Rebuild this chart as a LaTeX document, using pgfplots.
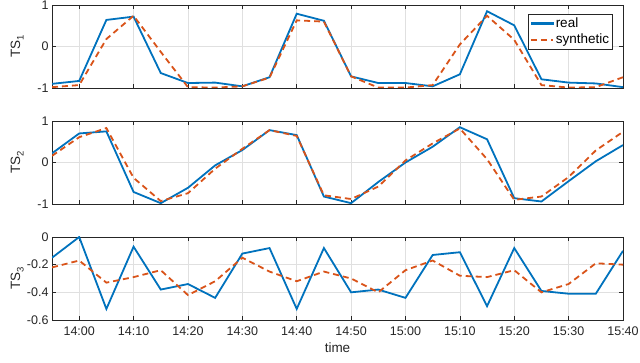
\documentclass[border=0pt]{standalone}
\usepackage{fontspec}
\setmainfont{Liberation Sans}
\usepackage{pgfplots}
\usepackage{pgfplotstable}
\pgfplotsset{compat=1.18}
\definecolor{mblue}{rgb}{0,0.447,0.741}
\definecolor{morange}{rgb}{0.85,0.325,0.098}
\definecolor{mgrid}{gray}{0.15}

% t in minutes after 14:00
\pgfplotstableread{
t real synth
-5 -0.90 -0.98
0 -0.83 -0.93
5 0.64 0.18
10 0.72 0.74
15 -0.64 -0.13
20 -0.88 -0.98
25 -0.87 -0.99
30 -0.96 -0.96
35 -0.74 -0.75
40 0.79 0.63
45 0.62 0.60
50 -0.72 -0.72
55 -0.88 -0.99
60 -0.88 -0.99
65 -0.96 -0.93
70 -0.67 0.05
75 0.85 0.74
80 0.51 0.16
85 -0.79 -0.93
90 -0.87 -0.99
95 -0.89 -0.98
100 -0.98 -0.74
}\tsone

\pgfplotstableread{
t real synth
-5 0.22 0.16
0 0.70 0.61
5 0.75 0.83
10 -0.71 -0.37
15 -0.98 -0.93
20 -0.61 -0.74
25 -0.07 -0.15
30 0.30 0.33
35 0.78 0.78
40 0.66 0.64
45 -0.82 -0.79
50 -0.98 -0.88
55 -0.47 -0.58
60 0.00 0.05
65 0.38 0.46
70 0.85 0.82
75 0.56 0.08
80 -0.86 -0.90
85 -0.94 -0.82
90 -0.45 -0.35
95 0.03 0.29
100 0.42 0.74
}\tstwo

\pgfplotstableread{
t real synth
-5 -0.15 -0.22
0 0.00 -0.17
5 -0.52 -0.33
10 -0.07 -0.29
15 -0.38 -0.24
20 -0.34 -0.42
25 -0.44 -0.32
30 -0.12 -0.15
35 -0.08 -0.25
40 -0.52 -0.32
45 -0.08 -0.25
50 -0.40 -0.30
55 -0.38 -0.40
60 -0.44 -0.24
65 -0.13 -0.17
70 -0.11 -0.28
75 -0.50 -0.29
80 -0.08 -0.24
85 -0.39 -0.40
90 -0.41 -0.34
95 -0.41 -0.19
100 -0.10 -0.20
}\tsthree

\tikzset{myreal/.style={draw=mblue, line width=1.8pt, solid},
mysynth/.style={draw=morange, line width=1.8pt, dash pattern=on 6pt off 4pt}}

\pgfplotsset{panel/.style={
  scale only axis, width=571pt, height=83pt,
  anchor=south west,
  xmin=-5, xmax=100, xtick={0,10,...,100},
  axis line style={mgrid, line width=0.6pt},
  tick style={mgrid, line width=0.6pt},
  major tick length=4pt,
  grid=major, grid style={black!12, line width=0.6pt},
  tick label style={font=\fontsize{12.5}{14}\selectfont, text=mgrid},
  label style={font=\fontsize{13.5}{15}\selectfont, text=mgrid},
  /pgf/number format/assume math mode=true,
  ylabel style={at={(axis description cs:-0.061,0.5)}, anchor=center},
  xticklabels={},
  legend style={font=\fontsize{13.5}{15}\selectfont, draw=mgrid,
    at={(rel axis cs:0.982,0.89)}, anchor=north east, inner sep=1.5pt,
    row sep=1pt, /tikz/every even column/.append style={column sep=2pt}},
  legend cell align=left,
}}

\begin{document}
\begin{tikzpicture}
\useasboundingbox (0,0) rectangle (640pt,362pt);
\begin{axis}[panel, at={(52pt,274pt)}, ymin=-1, ymax=1, ytick={-1,0,1},
  ylabel={TS\raisebox{-0.5ex}{\fontsize{9.5}{10}\selectfont 1}}]
\addlegendimage{legend image code/.code={\fill[mblue] (0pt,-1pt) rectangle (22pt,1pt);}}
\addlegendentry{real}
\addlegendimage{legend image code/.code={\draw[mysynth] (0pt,0pt) -- (22pt,0pt);}}
\addlegendentry{synthetic}
\addplot[myreal, forget plot] table[x=t,y=real] {\tsone};
\addplot[mysynth, forget plot] table[x=t,y=synth] {\tsone};
\end{axis}
\begin{axis}[panel, at={(52pt,158pt)}, ymin=-1, ymax=1, ytick={-1,0,1},
  ylabel={TS\raisebox{-0.5ex}{\fontsize{9.5}{10}\selectfont 2}}]
\addplot[myreal] table[x=t,y=real] {\tstwo};
\addplot[mysynth] table[x=t,y=synth] {\tstwo};
\end{axis}
\begin{axis}[panel, at={(52pt,42pt)}, ymin=-0.6, ymax=0, ytick={-0.6,-0.4,-0.2,0},
  yticklabels={-0.6,-0.4,-0.2,0},
  xticklabels={14:00,14:10,14:20,14:30,14:40,14:50,15:00,15:10,15:20,15:30,15:40},
  xticklabel style={yshift=-3pt},
  xlabel={time},
  ylabel={TS\raisebox{-0.5ex}{\fontsize{9.5}{10}\selectfont 3}}]
\addplot[myreal] table[x=t,y=real] {\tsthree};
\addplot[mysynth] table[x=t,y=synth] {\tsthree};
\end{axis}
\end{tikzpicture}
\end{document}
